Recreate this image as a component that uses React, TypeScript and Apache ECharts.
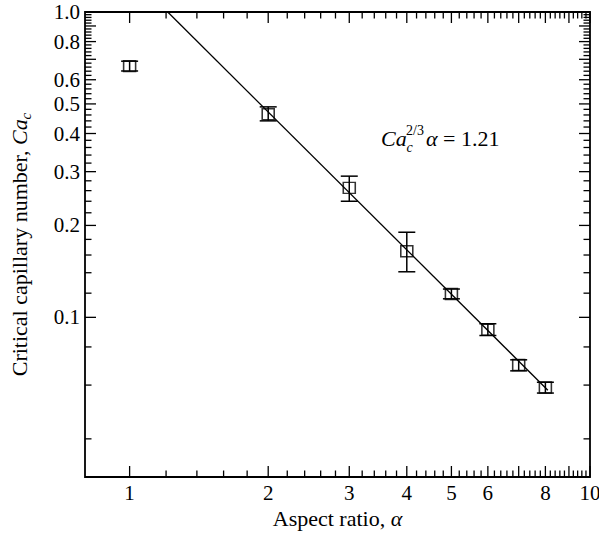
import { useEffect, useRef } from "react";
import * as echarts from "echarts";

// Measured critical capillary number against channel aspect ratio
const ALPHA = [1, 2, 3, 4, 5, 6, 7, 8];
const CA = [0.665, 0.4625, 0.2655, 0.1646, 0.1193, 0.0911, 0.0698, 0.0589];
const CA_LOW = [0.641, 0.44, 0.24, 0.141, 0.115, 0.0872, 0.0668, 0.0565];
const CA_HIGH = [0.69, 0.489, 0.29, 0.19, 0.1238, 0.0953, 0.0726, 0.0613];

// Scaling law Ca^(2/3) * alpha = const, drawn over this alpha span
const FIT_CONSTANT = 1.21;
const FIT_EXPONENT = 2 / 3;
const FIT_ALPHA_RANGE = [1.21, 8.1];

const X_MIN = 0.8;
const X_MAX = 10;
const Y_MIN = 0.03;
const Y_MAX = 1.0;

const X_TICK_LABELS: Record<string, string> = {
  "1": "1", "2": "2", "3": "3", "4": "4", "5": "5", "6": "6", "8": "8", "10": "10",
};
const Y_TICK_LABELS: Record<string, string> = {
  "0.1": "0.1", "0.2": "0.2", "0.3": "0.3", "0.4": "0.4",
  "0.5": "0.5", "0.6": "0.6", "0.8": "0.8", "1": "1.0",
};

const SERIF = "Liberation Serif, Times New Roman, serif";
const LABEL_SIZE = 21;
const MAJOR_LEN = 11;
const MINOR_LEN = 6.5;

type Tick = { value: number; major: boolean; label?: string };

// x: a tick every 0.2 from 1 to 10, long ones on the integers
const X_TICKS: Tick[] = [];
for (let k = 5; k <= 50; k++) {
  const v = Math.round(k * 2) / 10;
  X_TICKS.push({ value: v, major: k % 5 === 0, label: X_TICK_LABELS[String(v)] });
}
// y: a tick every 0.02 from 0.04 to 1.0, long ones on multiples of 0.1
const Y_TICKS: Tick[] = [];
for (let k = 2; k <= 50; k++) {
  const v = Math.round(k * 2) / 100;
  Y_TICKS.push({ value: v, major: k % 5 === 0, label: Y_TICK_LABELS[String(v)] });
}

const fitCa = (a: number) => Math.pow(FIT_CONSTANT / a, 1 / FIT_EXPONENT);

const RICH = {
  n: { fontFamily: SERIF, fontSize: LABEL_SIZE, fill: "#000", color: "#000" },
  big: { fontFamily: SERIF, fontSize: 22, fill: "#000", color: "#000" },
  bigi: { fontFamily: SERIF, fontSize: 22, fontStyle: "italic", fill: "#000", color: "#000" },
  small: { fontFamily: SERIF, fontSize: 14, fill: "#000", color: "#000" },
  smalli: { fontFamily: SERIF, fontSize: 14, fontStyle: "italic", fill: "#000", color: "#000" },
};

export default function App() {
  const ref = useRef<HTMLDivElement>(null);

  useEffect(() => {
    if (!ref.current) return;
    const chart = echarts.init(ref.current, null, { renderer: "svg" });

    const tickStyle = { stroke: "#000", lineWidth: 1.3 };

    const option: any = {
      animation: false,
      backgroundColor: "#fff",
      textStyle: { fontFamily: SERIF, color: "#000" },
      grid: {
        left: 82,
        right: 9,
        top: 12,
        bottom: 58,
        show: true,
        borderColor: "#000",
        borderWidth: 1.8,
        backgroundColor: "transparent",
      },
      xAxis: {
        type: "log",
        logBase: 10,
        min: X_MIN,
        max: X_MAX,
        axisLine: { show: false },
        axisTick: { show: false },
        axisLabel: { show: false },
        splitLine: { show: false },
        minorTick: { show: false },
        name: "{t|Aspect ratio, }{i|α}",
        nameLocation: "middle",
        nameGap: 30,
        nameTextStyle: {
          rich: {
            t: { fontFamily: SERIF, fontSize: 22, color: "#000" },
            i: { fontFamily: SERIF, fontSize: 22, fontStyle: "italic", color: "#000" },
          },
        },
      },
      yAxis: {
        type: "log",
        logBase: 10,
        min: Y_MIN,
        max: Y_MAX,
        axisLine: { show: false },
        axisTick: { show: false },
        axisLabel: { show: false },
        splitLine: { show: false },
        minorTick: { show: false },
        name: "{t|Critical capillary number, }{i|Ca}{s|c}",
        nameLocation: "middle",
        nameRotate: 90,
        nameGap: 52,
        nameTextStyle: {
          rich: {
            t: { fontFamily: SERIF, fontSize: 22, color: "#000", lineHeight: 28 },
            i: { fontFamily: SERIF, fontSize: 22, fontStyle: "italic", color: "#000", lineHeight: 28 },
            s: {
              fontFamily: SERIF, fontSize: 15, fontStyle: "italic", color: "#000",
              lineHeight: 15, verticalAlign: "bottom",
            },
          },
        },
      },
      series: [
        {
          // ticks and labels along the bottom and top edges
          type: "custom",
          coordinateSystem: "cartesian2d",
          silent: true,
          clip: false,
          data: X_TICKS.map((t) => [t.value, Y_MIN]),
          encode: { x: 0, y: 1 },
          renderItem: (params: any, api: any) => {
            const t = X_TICKS[params.dataIndex];
            const [x, yb] = api.coord([t.value, Y_MIN]);
            const [, yt] = api.coord([t.value, Y_MAX]);
            const len = t.major ? MAJOR_LEN : MINOR_LEN;
            const children: any[] = [
              { type: "line", shape: { x1: x, y1: yb, x2: x, y2: yb - len }, style: tickStyle },
              { type: "line", shape: { x1: x, y1: yt, x2: x, y2: yt + len }, style: tickStyle },
            ];
            if (t.label) {
              children.push({
                type: "text",
                style: {
                  text: `{n|${t.label}}`, rich: RICH, x, y: yb + 16,
                  align: "center", verticalAlign: "middle", fill: "#000",
                },
              });
            }
            return { type: "group", children };
          },
          z: 5,
        },
        {
          // ticks and labels along the left and right edges
          type: "custom",
          coordinateSystem: "cartesian2d",
          silent: true,
          clip: false,
          data: Y_TICKS.map((t) => [X_MIN, t.value]),
          encode: { x: 0, y: 1 },
          renderItem: (params: any, api: any) => {
            const t = Y_TICKS[params.dataIndex];
            const [xl, y] = api.coord([X_MIN, t.value]);
            const [xr] = api.coord([X_MAX, t.value]);
            const len = t.major ? MAJOR_LEN : MINOR_LEN;
            const children: any[] = [
              { type: "line", shape: { x1: xl, y1: y, x2: xl + len, y2: y }, style: tickStyle },
              { type: "line", shape: { x1: xr, y1: y, x2: xr - len, y2: y }, style: tickStyle },
            ];
            if (t.label) {
              children.push({
                type: "text",
                style: {
                  text: `{n|${t.label}}`, rich: RICH, x: xl - 5, y,
                  align: "right", verticalAlign: "middle", fill: "#000",
                },
              });
            }
            return { type: "group", children };
          },
          z: 5,
        },
        {
          // error bars with caps
          type: "custom",
          coordinateSystem: "cartesian2d",
          silent: true,
          data: ALPHA.map((a, i) => [a, CA_LOW[i], CA_HIGH[i]]),
          encode: { x: 0, y: [1, 2] },
          renderItem: (_params: any, api: any) => {
            const a = api.value(0);
            const lo = api.coord([a, api.value(1)]);
            const hi = api.coord([a, api.value(2)]);
            const half = 8.5;
            const st = { stroke: "#000", lineWidth: 1.5 };
            return {
              type: "group",
              children: [
                { type: "line", shape: { x1: lo[0], y1: lo[1], x2: hi[0], y2: hi[1] }, style: st },
                { type: "line", shape: { x1: lo[0] - half, y1: lo[1], x2: lo[0] + half, y2: lo[1] }, style: st },
                { type: "line", shape: { x1: hi[0] - half, y1: hi[1], x2: hi[0] + half, y2: hi[1] }, style: st },
              ],
            };
          },
          z: 3,
        },
        {
          type: "line",
          data: FIT_ALPHA_RANGE.map((a) => [a, fitCa(a)]),
          symbol: "none",
          lineStyle: { color: "#000", width: 1.3 },
          silent: true,
          z: 2,
        },
        {
          type: "scatter",
          data: ALPHA.map((a, i) => [a, CA[i]]),
          symbol: "rect",
          symbolSize: [12, 11],
          itemStyle: { color: "transparent", borderColor: "#000", borderWidth: 1.5 },
          silent: true,
          z: 4,
        },
      ],
      graphic: [
        {
          type: "group",
          children: [
            {
              type: "text",
              x: 381,
              y: 138,
              style: { text: "{bigi|Ca}", rich: RICH, fill: "#000", verticalAlign: "middle" },
            },
            {
              type: "text",
              x: 406,
              y: 130.5,
              style: { text: "{small|2/3}", rich: RICH, fill: "#000", verticalAlign: "middle" },
            },
            {
              type: "text",
              x: 406.5,
              y: 147,
              style: { text: "{smalli|c}", rich: RICH, fill: "#000", verticalAlign: "middle" },
            },
            {
              type: "text",
              x: 426,
              y: 138,
              style: {
                text: "{bigi|α}{big| = 1.21}", rich: RICH, fill: "#000", verticalAlign: "middle",
              },
            },
          ],
        },
      ],
    };

    chart.setOption(option);
    return () => chart.dispose();
  }, []);

  return (
    <div
      ref={ref}
      style={{ position: "absolute", left: 0, top: 0, width: 599, height: 535 }}
    />
  );
}
